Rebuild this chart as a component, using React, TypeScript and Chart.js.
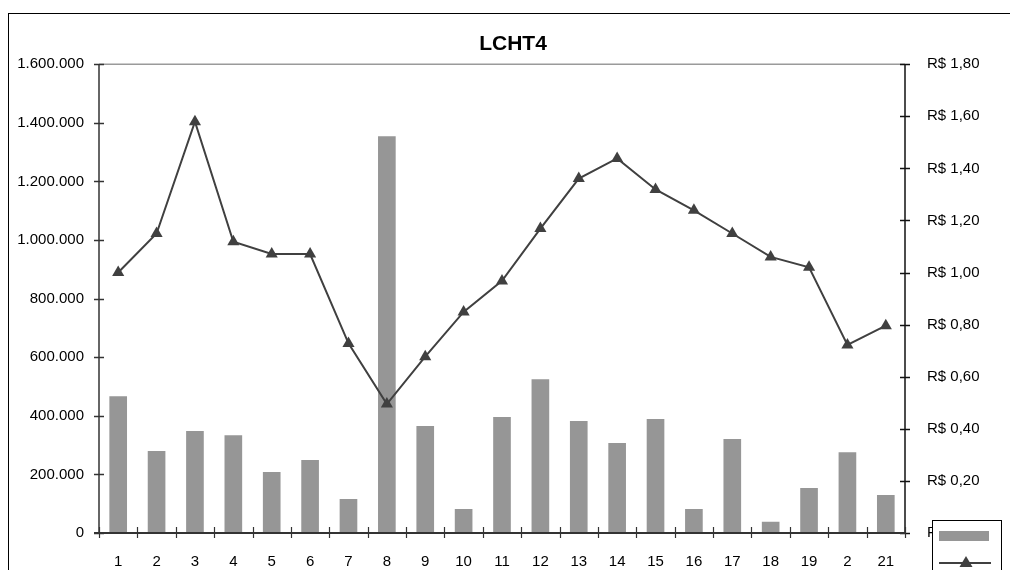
import React, { useEffect, useRef } from "react";
import { Chart, registerables } from "chart.js";

Chart.register(...registerables);

const categories = ["1", "2", "3", "4", "5", "6", "7", "8", "9", "10", "11", "12", "13", "14", "15", "16", "17", "18", "19", "2", "21"];
const volume = [467000, 280000, 348000, 334000, 208000, 249000, 116000, 1354000, 365000, 82000, 396000, 525000, 382000, 307000, 389000, 82000, 321000, 38000, 154000, 276000, 130000];
const price = [1.0, 1.15, 1.579, 1.118, 1.071, 1.071, 0.728, 0.495, 0.677, 0.849, 0.968, 1.169, 1.361, 1.438, 1.319, 1.239, 1.15, 1.06, 1.02, 0.722, 0.796];
const titleText = "LCHT4";

const FONT = "'Liberation Sans', Arial, sans-serif";
const BAR_COLOR = "#969696";
const LINE_COLOR = "#404040";

const fmtThousands = (v: number) =>
  Math.round(v).toString().replace(/\B(?=(\d{3})+(?!\d))/g, ".");
const fmtReais = (v: number) => "R$ " + v.toFixed(2).replace(".", ",");

// Axis lines with cross tick marks, the grey top edge of the plot, and the small legend box
const axisDecor = {
  id: "axisDecor",
  afterDatasetsDraw(chart: any) {
    const { ctx, chartArea, scales } = chart;
    const { left, right, top, bottom } = chartArea;
    const half = 5;
    ctx.save();
    // top edge
    ctx.strokeStyle = "#9a9a9a";
    ctx.lineWidth = 1.5;
    ctx.beginPath();
    ctx.moveTo(left, top);
    ctx.lineTo(right, top);
    ctx.stroke();

    ctx.strokeStyle = "#333";
    ctx.lineWidth = 1.5;
    // left axis
    ctx.beginPath();
    ctx.moveTo(left, top);
    ctx.lineTo(left, bottom);
    ctx.stroke();
    scales.y.ticks.forEach((t: any) => {
      const py = Math.round(scales.y.getPixelForValue(t.value)) + 0.5;
      ctx.beginPath();
      ctx.moveTo(left - half, py);
      ctx.lineTo(left + half, py);
      ctx.stroke();
    });
    // right axis
    ctx.strokeStyle = "#111";
    ctx.beginPath();
    ctx.moveTo(right, top);
    ctx.lineTo(right, bottom);
    ctx.stroke();
    scales.y1.ticks.forEach((t: any) => {
      const py = Math.round(scales.y1.getPixelForValue(t.value)) + 0.5;
      ctx.beginPath();
      ctx.moveTo(right - half, py);
      ctx.lineTo(right + half, py);
      ctx.stroke();
    });
    // bottom axis with ticks between categories
    ctx.strokeStyle = "#333";
    ctx.lineWidth = 2;
    ctx.beginPath();
    ctx.moveTo(left - half, bottom);
    ctx.lineTo(right, bottom);
    ctx.stroke();
    ctx.lineWidth = 1.2;
    const n = categories.length;
    for (let i = 0; i <= n; i++) {
      const px = Math.round(left + ((right - left) * i) / n) + 0.5;
      ctx.beginPath();
      ctx.moveTo(px, bottom - half - 1);
      ctx.lineTo(px, bottom + half);
      ctx.stroke();
    }

    // legend box
    const lx = right + 27;
    const ly = bottom - 13;
    ctx.fillStyle = "#fff";
    ctx.fillRect(lx, ly, 69, 80);
    ctx.strokeStyle = "#000";
    ctx.lineWidth = 1;
    ctx.strokeRect(lx + 0.5, ly + 0.5, 69, 80);
    ctx.fillStyle = BAR_COLOR;
    ctx.fillRect(lx + 7, ly + 11, 50, 10);
    ctx.strokeStyle = LINE_COLOR;
    ctx.lineWidth = 2;
    ctx.beginPath();
    ctx.moveTo(lx + 7, ly + 43);
    ctx.lineTo(lx + 59, ly + 43);
    ctx.stroke();
    ctx.fillStyle = LINE_COLOR;
    const cx = lx + 34;
    const cy = ly + 43;
    ctx.beginPath();
    ctx.moveTo(cx, cy - 7);
    ctx.lineTo(cx + 6.5, cy + 4);
    ctx.lineTo(cx - 6.5, cy + 4);
    ctx.closePath();
    ctx.fill();
    ctx.restore();
  },
};

export default function App() {
  const canvasRef = useRef<HTMLCanvasElement | null>(null);

  useEffect(() => {
    document.documentElement.style.overflow = "hidden";
    document.body.style.overflow = "hidden";
    const canvas = canvasRef.current;
    if (!canvas) return;
    const chart = new Chart(canvas, {
      data: {
        labels: categories,
        datasets: [
          {
            type: "line",
            label: "Preço",
            data: price,
            yAxisID: "y1",
            borderColor: LINE_COLOR,
            borderWidth: 2,
            backgroundColor: LINE_COLOR,
            pointStyle: "triangle",
            pointRadius: 7,
            pointBackgroundColor: LINE_COLOR,
            pointBorderColor: LINE_COLOR,
            pointBorderWidth: 0,
            tension: 0,
            order: 1,
          },
          {
            type: "bar",
            label: "Volume",
            data: volume,
            yAxisID: "y",
            backgroundColor: BAR_COLOR,
            borderWidth: 0,
            barPercentage: 0.46,
            categoryPercentage: 1,
            order: 2,
          },
        ],
      } as any,
      options: {
        animation: false,
        responsive: false,
        maintainAspectRatio: false,
        layout: { padding: 0 },
        plugins: {
          legend: { display: false },
          tooltip: { enabled: false },
          title: {
            display: true,
            text: titleText,
            color: "#000",
            font: { family: FONT, size: 21, weight: "bold" },
            padding: { top: 24, bottom: 7 },
          },
        },
        scales: {
          x: {
            type: "category",
            offset: true,
            grid: { display: false, drawTicks: false },
            border: { display: false },
            ticks: {
              color: "#000",
              font: { family: FONT, size: 15 },
              padding: 20,
              maxRotation: 0,
              autoSkip: false,
            },
            afterFit: (s: any) => {
              s.height = 37;
            },
          },
          y: {
            type: "linear",
            position: "left",
            min: 0,
            max: 1600000,
            grid: { display: false, drawTicks: false },
            border: { display: false },
            ticks: {
              stepSize: 200000,
              color: "#000",
              font: { family: FONT, size: 15 },
              padding: 15,
              callback: (v: any) => fmtThousands(Number(v)),
            },
            afterFit: (s: any) => {
              s.width = 91;
            },
          },
          y1: {
            type: "linear",
            position: "right",
            min: 0,
            max: 1.8,
            grid: { display: false, drawTicks: false },
            border: { display: false },
            ticks: {
              stepSize: 0.2,
              color: "#000",
              font: { family: FONT, size: 15 },
              padding: 22,
              callback: (v: any) => fmtReais(Number(v)),
            },
            afterFit: (s: any) => {
              s.width = 113;
            },
          },
        },
      } as any,
      plugins: [axisDecor],
    });
    return () => chart.destroy();
  }, []);

  return (
    <div style={{ position: "relative", width: 1010, height: 562, overflow: "hidden" }}>
      <div
        style={{
          position: "absolute",
          left: 0,
          top: 5,
          width: 1200,
          height: 700,
          border: "1px solid #000",
          boxSizing: "border-box",
        }}
      />
      <canvas
        ref={canvasRef}
        width={1010}
        height={562}
        style={{ position: "absolute", left: 0, top: 0, width: 1010, height: 562 }}
      />
    </div>
  );
}
